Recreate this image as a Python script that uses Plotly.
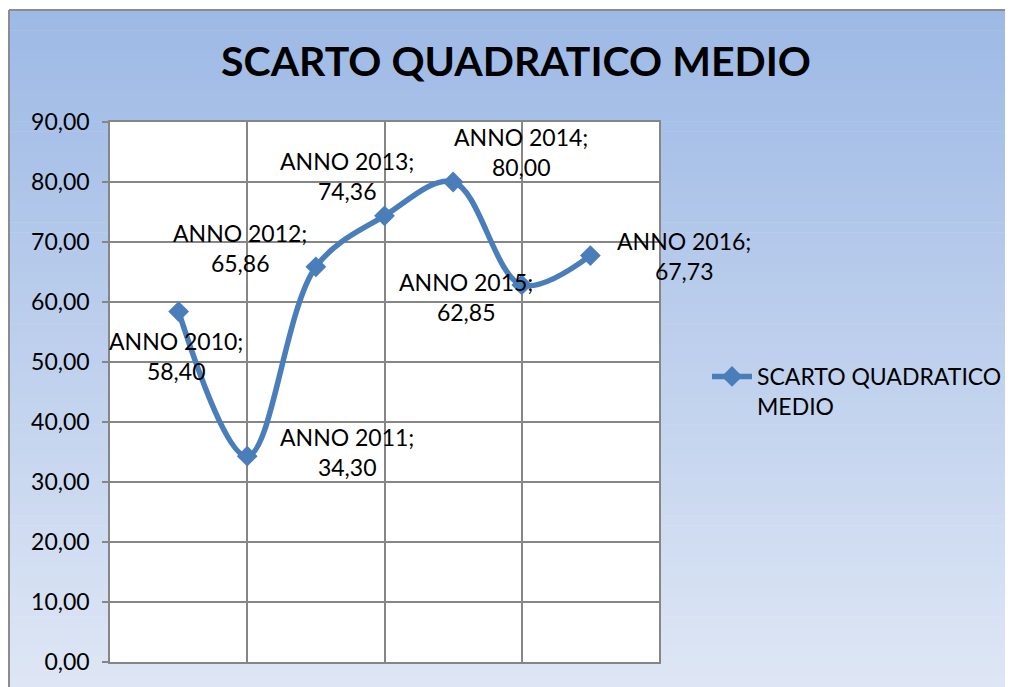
import plotly.graph_objects as go

# ---- data ----
years = [2010, 2011, 2012, 2013, 2014, 2015, 2016]
values = [58.40, 34.30, 65.86, 74.36, 80.00, 62.85, 67.73]
series_name = "SCARTO QUADRATICO MEDIO"
chart_title = "SCARTO QUADRATICO MEDIO"
label_prefix = "ANNO"
y_tick_values = [0, 10, 20, 30, 40, 50, 60, 70, 80, 90]

# ---- styling ----
OFF = 8  # page body margin offset
W, H = 1013, 687
ML, MR, MT, MB = 110 - OFF, 1013 - (659 - OFF), 122 - OFF, 687 - (662 - OFF)
PW, PH = W - ML - MR, H - MT - MB
FONT = "Lato, Calibri, sans-serif"
LINE_COLOR = "#4A7EBB"
GRID = "#868686"
label_shift = [(-3, -44), (100, 4), (-76, 19), (-38, 40), (68, 30), (-56, -12), (94, 0)]


def px_x(p):  # page pixel -> paper
    return (p - OFF - ML) / PW


def px_y(p):
    return (H - MB - (p - OFF)) / PH


fig = go.Figure()
fig.add_trace(go.Scatter(
    x=years, y=values, name=series_name.replace("QUADRATICO ", "QUADRATICO<br>"),
    mode="lines+markers",
    line=dict(color=LINE_COLOR, width=5.5, shape="spline", smoothing=1.0),
    marker=dict(symbol="diamond", size=16, color=LINE_COLOR),
    hoverinfo="skip",
))

# gradient background of the chart box
top_c = (157, 185, 229)
bot_c = (223, 231, 245)
shapes = []
y0px, y1px = 10, H + 10
n = 68
for i in range(n):
    a = y0px + (y1px - y0px) * i / n
    b = y0px + (y1px - y0px) * (i + 1) / n + 0.6
    t = (i + 0.5) / n
    c = tuple(round(top_c[k] + (bot_c[k] - top_c[k]) * t) for k in range(3))
    shapes.append(dict(type="rect", xref="paper", yref="paper",
                       x0=px_x(8), x1=px_x(W + 20), y0=px_y(b), y1=px_y(a),
                       line=dict(width=0), fillcolor="rgb(%d,%d,%d)" % c, layer="below"))
# border of chart box
shapes.append(dict(type="line", xref="paper", yref="paper", x0=px_x(9), x1=px_x(W + 20),
                   y0=px_y(10), y1=px_y(10), line=dict(color="#8c8c8c", width=2), layer="below"))
shapes.append(dict(type="line", xref="paper", yref="paper", x0=px_x(9), x1=px_x(9),
                   y0=px_y(10), y1=px_y(H + 20), line=dict(color="#8c8c8c", width=2), layer="below"))
# white plot area
shapes.append(dict(type="rect", xref="paper", yref="paper", x0=0, x1=1, y0=0, y1=1,
                   line=dict(width=0), fillcolor="white", layer="below"))

annotations = []
for yr, v, (dx, dy) in zip(years, values, label_shift):
    txt = f"{label_prefix} {yr};<br>{v:.2f}".replace(".", ",")
    annotations.append(dict(x=yr, y=v, xref="x", yref="y", text=txt, showarrow=False,
                            xshift=dx, yshift=dy, xanchor="center", yanchor="middle",
                            font=dict(family=FONT, size=23, color="black")))

fig.update_layout(
    width=W, height=H,
    margin=dict(l=ML, r=MR, t=MT, b=MB, pad=0),
    paper_bgcolor="white", plot_bgcolor="white",
    separators=",.",
    font=dict(family=FONT, size=23, color="black"),
    title=dict(text=f"<b>{chart_title}</b>", x=(516 - OFF) / W, y=1 - (62 - OFF) / H,
               xref="container", yref="container",
               xanchor="center", yanchor="middle", font=dict(family=FONT, size=41, color="black")),
    xaxis=dict(range=[2009, 2017], tick0=2009, dtick=2, showticklabels=False, ticks="",
               showgrid=True, gridcolor=GRID, gridwidth=1.5, zeroline=False,
               showline=True, linecolor=GRID, linewidth=1.5, mirror=True, fixedrange=True),
    yaxis=dict(range=[0, 90], tickvals=y_tick_values, tickformat=".2f", ticks="outside",
               ticklen=6, tickcolor=GRID, tickwidth=1.5, ticklabelstandoff=8,
               showgrid=True, gridcolor=GRID, gridwidth=1.5, zeroline=False,
               showline=True, linecolor=GRID, linewidth=1.5, mirror=True, fixedrange=True,
               tickfont=dict(family=FONT, size=23, color="black")),
    showlegend=True,
    legend=dict(x=px_x(707), y=px_y(355), xanchor="left", yanchor="top", valign="top",
                bgcolor="rgba(0,0,0,0)", font=dict(family=FONT, size=23, color="black"),
                itemwidth=40),
    shapes=shapes,
    annotations=annotations,
)

fig.write_html("out.html", config={"displayModeBar": False},
               post_script="document.documentElement.style.overflow='hidden';")
